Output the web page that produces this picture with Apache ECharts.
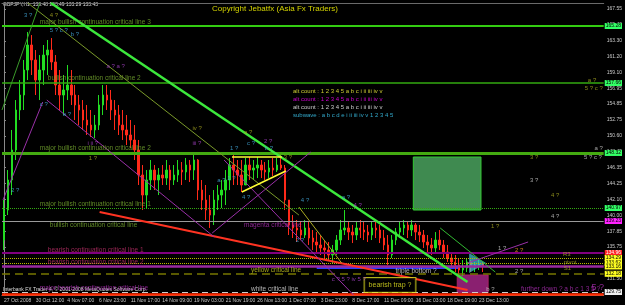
<!DOCTYPE html>
<html>
<head>
<meta charset="utf-8">
<title>GBPJPY H1</title>
<script src="https://cdn.jsdelivr.net/npm/echarts@6.0.0/dist/echarts.min.js"></script>
<style>
html, body { margin: 0; padding: 0; background: #000; }
#main { width: 625px; height: 305px; }
</style>
</head>
<body>
<div id="main"></div>
<script>
// time axis labels, one every 8 bars
var xLabels = ['27 Oct 2008', '30 Oct 12:00', '4 Nov 07:00', '6 Nov 23:00', '11 Nov 17:00', '14 Nov 09:00',
  '19 Nov 03:00', '21 Nov 19:00', '26 Nov 13:00', '1 Dec 07:00', '3 Dec 23:00', '8 Dec 17:00',
  '11 Dec 09:00', '16 Dec 03:00', '18 Dec 19:00', '23 Dec 13:00'];
var yTicks = [167.55, 165.40, 163.30, 161.20, 159.10, 156.95, 154.85, 152.75, 150.60, 148.45,
  146.35, 144.25, 142.10, 140.00, 137.85, 135.75, 133.60, 131.50];

// price bars (each bar ~ 8 hours), open = previous close
var firstOpen = 136.69;
var highs = [142.04, 146.04, 151.39, 155.39, 158.06, 160.74, 164.48, 164.07, 162.07, 161.40,
  162.74, 163.41, 163.67, 161.40, 159.40, 158.73, 160.07, 159.40, 157.40, 156.06,
  155.39, 154.73, 154.06, 153.39, 156.06, 157.40, 157.40, 156.73, 155.39, 154.73,
  154.06, 153.39, 152.72, 152.05, 150.05, 146.71, 146.04, 147.38, 146.71, 146.31,
  146.71, 147.38, 146.71, 146.71, 147.38, 147.11, 147.65, 147.38, 148.05, 147.50,
  144.71, 144.04, 142.70, 143.37, 144.04, 144.71, 146.04, 147.65, 148.05, 147.38,
  147.38, 147.65, 147.78, 147.38, 147.78, 147.38, 147.11, 147.38, 147.65, 147.65,
  148.05, 146.71, 142.04, 140.03, 139.37, 139.10, 139.37, 139.10, 138.03, 137.76,
  137.36, 136.69, 136.43, 136.03, 137.36, 139.37, 140.70, 139.10, 138.70, 139.10,
  139.37, 139.10, 138.70, 139.10, 139.37, 138.70, 138.03, 137.36, 137.36, 138.30,
  139.10, 139.37, 139.10, 139.37, 138.96, 138.70, 138.03, 137.36, 136.96, 137.76,
  138.03, 136.69, 136.03, 135.09, 134.69, 134.29, 134.02, 134.29, 134.02, 133.76,
  134.02, 133.76];
var lows = [135.36, 140.03, 142.70, 147.38, 152.72, 154.06, 158.06, 158.73, 156.06, 155.39,
  157.40, 158.73, 159.40, 156.06, 154.06, 153.39, 155.39, 154.73, 152.72, 152.05,
  151.39, 150.72, 150.45, 150.32, 151.39, 153.39, 154.06, 152.72, 151.39, 150.72,
  150.05, 149.38, 148.98, 147.38, 144.04, 140.70, 140.97, 143.37, 143.37, 142.70,
  144.04, 144.04, 143.37, 144.04, 144.44, 144.04, 144.71, 144.44, 144.71, 142.04,
  140.70, 139.37, 138.30, 138.70, 140.70, 140.97, 141.37, 143.37, 144.04, 144.04,
  143.10, 144.04, 144.71, 144.71, 144.97, 144.97, 144.71, 144.97, 145.24, 145.78,
  146.04, 140.70, 137.36, 136.96, 136.43, 136.69, 136.96, 136.03, 135.36, 135.09,
  134.69, 134.29, 134.02, 133.62, 134.69, 136.03, 137.36, 136.69, 136.29, 136.69,
  136.96, 136.69, 136.43, 136.69, 136.96, 136.29, 135.36, 133.36, 134.29, 136.03,
  136.96, 137.36, 136.96, 137.23, 136.69, 136.43, 135.63, 135.09, 134.69, 135.09,
  135.36, 134.29, 133.76, 132.95, 132.42, 132.02, 131.89, 132.42, 132.42, 132.42,
  132.69, 132.42];
var closes = [140.70, 144.71, 148.72, 154.06, 156.06, 159.40, 162.74, 160.74, 158.06, 159.40,
  161.40, 162.07, 160.47, 157.40, 156.06, 156.73, 157.40, 156.06, 154.73, 154.06,
  152.72, 152.05, 151.39, 152.05, 154.73, 156.06, 155.39, 154.06, 153.39, 152.05,
  151.39, 150.72, 150.05, 148.72, 145.38, 142.70, 144.71, 146.04, 144.71, 145.38,
  144.97, 146.04, 144.71, 145.38, 146.04, 145.78, 146.71, 146.04, 147.38, 143.37,
  142.04, 140.70, 140.03, 142.04, 142.70, 143.37, 144.71, 146.71, 146.04, 145.38,
  144.04, 146.71, 146.04, 146.31, 146.71, 146.04, 145.78, 146.31, 146.04, 146.71,
  146.31, 142.04, 138.70, 138.30, 138.03, 137.36, 138.30, 136.96, 136.43, 136.03,
  135.63, 135.36, 134.69, 135.36, 136.69, 138.03, 138.30, 137.76, 137.36, 138.30,
  138.03, 137.76, 137.36, 138.30, 138.03, 136.96, 136.03, 134.69, 136.69, 137.76,
  138.30, 138.70, 138.03, 138.70, 137.76, 137.36, 136.43, 136.03, 135.63, 136.69,
  136.03, 135.09, 134.29, 133.76, 133.36, 132.69, 132.95, 133.76, 133.22, 133.36,
  133.49, 133.22];

// horizontal critical lines (prices)
var levelPrices = [165.28, 157.66, 148.32, 140.97, 139.23, 134.96, 134.29, 133.62, 133.16, 132.18, 129.75, 129.48];
// trend lines: [bar, price] -> [bar, price]
var trendLines = [
  [[11.83, 168.35], [117.1, 131.08]],
  [[6.04, 168.35], [74.5, 140.03]],
  [[24.16, 140.43], [117.1, 130.01]],
  [[10.82, 155.39], [53.1, 137.10]],
  [[-0.25, 142.04], [9.8, 155.13]],
  [[-0.5, 154.06], [9.06, 168.35]],
  [[52.6, 137.63], [77.5, 148.45]],
  [[55.6, 147.38], [88.3, 129.35]],
  [[57.6, 147.78], [70.2, 147.78]],
  [[60.1, 143.11], [71.2, 145.91]],
  [[74.5, 141.10], [85.3, 133.62]],
  [[110.2, 138.30], [124.1, 132.42]],
  [[117.1, 133.62], [132.4, 136.43]]
];
var blueBar = [[79.0, 133.22], [114.7, 132.82]];
var greenBox = [[103.4, 147.78], [120.5, 140.70]];
var purpleBox = [[114.5, 132.02], [122.3, 129.62]];
var tealTriangle = [[117.5, 134.96], [117.5, 132.29], [121.8, 133.62]];

// annotations: [bar, price, text]
var greenNotes = [[9.06, 165.81, 'major bullish continuation critical line 3'], [11.08, 158.33, 'bullish continuation critical line 2'],
  [9.06, 148.98, 'major bullish continuation critical line 2'], [9.06, 141.50, 'major bullish continuation critical line 1'],
  [11.58, 138.70, 'bullish continuation critical line']];
var redNotes = [[11.08, 135.36, 'bearish continuation critical line 1'], [11.08, 133.76, 'bearish continuation critical line 2']];
var magentaNotes = [[9.06, 130.28, 'major bearish continuation critical line'], [60.65, 138.70, 'magenta critical line'],
  [130.6, 130.15, 'further down ? a b c 1 3 5 ?']];
var bigNotes = [[148.4, 130.35, '5 ?']];
var yellowNotes = [[62.4, 132.69, 'yellow critical line']];
var whiteNotes = [[62.4, 130.15, 'white critical line'], [98.9, 132.55, 'triple bottom ?']];
var trapNotes = [[91.1, 130.68, 'bearish trap ?']];
var cyanWaves = [[5.04, 166.75, '3 ?'], [11.58, 164.74, '5 ? c ?'], [16.86, 164.21, 'b ?'], [9.06, 154.86, 'c ?'],
  [14.85, 153.52, 'a ?'], [1.76, 143.37, '2 ?'], [61.4, 149.65, 'c ?'], [65.9, 148.98, 'b ?'], [57.1, 148.98, '1 ?'],
  [53.85, 144.71, 'a ?'], [56.4, 144.97, '1 ?'], [60.1, 142.44, '4 ?'], [75.0, 142.04, '4 ?'], [85.3, 142.44, 'a ?'],
  [73.7, 136.69, '2 ?']];
var oliveWaves = [[11.58, 166.75, '4 ?'], [47.6, 151.65, 'iv ?'], [21.4, 147.65, '1 ?'], [70.7, 147.78, '3 ?'],
  [60.65, 151.12, 'a ?'], [147.5, 158.06, 'a ?'], [146.7, 157.0, '5 ? c ?'], [132.9, 147.78, '3 ?'],
  [138.2, 142.70, '4 ?'], [123.05, 138.56, '1 ?'], [141.2, 134.83, 'R3'], [141.4, 133.76, 'pivot'], [141.4, 132.95, 'S1']];
var orangeWaves = [[129.1, 135.36, '2 ?']];
var purpleWaves = [[25.9, 159.93, 'a ? a ?'], [47.6, 149.65, 'iii ?'], [21.1, 149.65, 'i ii ?'], [65.7, 149.92, '2 ?'],
  [88.3, 141.37, '4 ?'], [82.8, 131.49, 'c ? 5 ? iv 5 ?']];
var whiteWaves = [[149.2, 148.98, 'a ?'], [146.5, 147.78, '5 ? c ?'], [132.9, 144.71, '3 ?'], [138.2, 139.9, '4 ?'],
  [124.8, 135.63, '1 ?'], [129.1, 132.55, '2 ?'], [121.8, 130.15, 'b ?']];

// styles for the lines above
var levelStyles = [
  {color: '#33cc11', width: 2, tag: '#33ff66'},
  {color: '#33aa11', width: 1.5, tag: '#33ff66'},
  {color: '#44aa11', width: 3, tag: '#33ff66'},
  {color: '#33aa11', width: 1, type: 'dotted', tag: '#33ff66'},
  {color: '#9a9a9a', width: 1, tag: '#ff22ff'},
  {color: '#800080', width: 2, tag: '#ff2222', tagText: '#fff'},
  {color: '#bbbb00', width: 1, type: 'dotted', tag: '#ffff22'},
  {color: '#bbbb00', width: 1, type: 'dotted', tag: '#ffff22'},
  {color: '#9a2aa0', width: 2.5, tag: '#ffff22'},
  {color: '#777700', width: 1.5, type: [8, 5], tag: '#ffff22'},
  {color: '#cccccc', width: 1, type: [6, 4], tag: '#eeeeee'},
  {color: '#ff2a00', width: 2.5}
];
var trendStyles = [
  {color: '#3ce83c', width: 2.5}, {color: '#7a9a2a', width: 1}, {color: '#ff3322', width: 2},
  {color: '#9a30a8', width: 1}, {color: '#9a30a8', width: 1}, {color: '#3a9a2a', width: 1},
  {color: '#9a30a8', width: 1}, {color: '#9a30a8', width: 1}, {color: '#ffff33', width: 1.5},
  {color: '#ffff33', width: 1.5}, {color: '#aaaa22', width: 1}, {color: '#33bb33', width: 1},
  {color: '#9a30a8', width: 1}
];

var FONT = 'Liberation Sans';

function textSeries(items, color, size, extra) {
  var label = {show: true, position: 'right', distance: 0, formatter: '{b}', color: color, fontSize: size, fontFamily: FONT};
  if (extra) for (var k in extra) label[k] = extra[k];
  return {
    type: 'scatter', xAxisIndex: 1, yAxisIndex: 0, z: 6, silent: true,
    symbolSize: 0,
    data: items.map(function (t) { return {value: [t[0], t[1]], name: t[2]}; }),
    label: label
  };
}

var cats = [];
for (var i = 0; i < 152; i++) cats.push(String(i));

var candles = closes.map(function (c, i) {
  var o = i === 0 ? firstOpen : closes[i - 1];
  return [o, c, lows[i], highs[i]];
});

var levelData = levelPrices.map(function (v, i) {
  var s = levelStyles[i];
  return {
    yAxis: v,
    lineStyle: {color: s.color, width: s.width, type: s.type || 'solid'},
    label: s.tag ? {show: true, position: 'end', distance: 1, formatter: v.toFixed(2), backgroundColor: s.tag,
      color: s.tagText || '#000', fontSize: 5, fontFamily: FONT, padding: [1, 1, 0, 1]} : {show: false}
  };
});

var trendData = trendLines.map(function (t, i) {
  var s = trendStyles[i];
  return [{coord: t[0], lineStyle: {color: s.color, width: s.width, type: 'solid'}}, {coord: t[1]}];
});

var chart = echarts.init(document.getElementById('main'));

var option = {
  backgroundColor: '#000',
  animation: false,
  grid: {left: 2, right: 19, top: 3, bottom: 10},
  xAxis: [{
    type: 'category', data: cats, boundaryGap: true,
    axisLine: {lineStyle: {color: '#8a8a8a'}},
    axisTick: {interval: 7, alignWithLabel: true, length: 2, lineStyle: {color: '#8a8a8a'}},
    axisLabel: {
      interval: 7, align: 'left', margin: 3, color: '#c8c8c8', fontSize: 5, fontFamily: FONT,
      formatter: function (v, idx) { return (idx % 8 === 0 && xLabels[idx / 8]) || ''; }
    },
    splitLine: {show: false}
  }, {
    type: 'value', min: -0.5, max: 151.5, position: 'top',
    axisLine: {show: true, lineStyle: {color: '#6a6a6a'}},
    axisTick: {show: false}, axisLabel: {show: false}, splitLine: {show: false}
  }],
  yAxis: {
    type: 'value', position: 'right', min: 129.35, max: 168.35,
    splitLine: {show: false},
    axisLine: {show: true, lineStyle: {color: '#8a8a8a'}},
    axisTick: {show: true, customValues: yTicks, length: 2, lineStyle: {color: '#8a8a8a'}},
    axisLabel: {customValues: yTicks, margin: 3, color: '#c8c8c8', fontSize: 5, fontFamily: FONT,
      formatter: function (v) { return v.toFixed(2); }}
  },
  graphic: [
    {type: 'text', left: 3, top: 2, style: {text: 'GBPJPY,H1  133.48 133.49 133.29 133.43', fill: '#dddddd', font: '5px ' + FONT}},
    {type: 'text', left: 212, top: 5, style: {text: 'Copyright Jebatfx (Asia Fx Traders)', fill: '#d4d400', font: '8px ' + FONT}},
    {type: 'text', left: 293, top: 88, style: {text: 'alt count : 1 2 3 4 5 a b c i ii iii iv v', fill: '#cccc33', font: '6px ' + FONT}},
    {type: 'text', left: 293, top: 96, style: {text: 'alt count : 1 2 3 4 5 a b c i ii iii iv v', fill: '#cc00cc', font: '6px ' + FONT}},
    {type: 'text', left: 293, top: 104, style: {text: 'alt count : 1 2 3 4 5 a b c i ii iii iv v', fill: '#cccccc', font: '6px ' + FONT}},
    {type: 'text', left: 293, top: 112, style: {text: 'subwave : a b c d e i ii iii iv v 1 2 3 4 5', fill: '#33aacc', font: '6px ' + FONT}},
    {type: 'text', left: 3, top: 287, style: {text: 'Interbank FX Trader 4, \u00a9 2001-2008 MetaQuotes Software Corp.', fill: '#dddddd', font: '5px ' + FONT}}
  ],
  series: [
    {
      type: 'line', xAxisIndex: 1, yAxisIndex: 0, data: [], z: 1, silent: true,
      markArea: {silent: true, data: [
        [{coord: blueBar[0], itemStyle: {color: '#2a3cff', opacity: 1}}, {coord: blueBar[1]}],
        [{coord: greenBox[0], itemStyle: {color: '#3f8a50', opacity: 1, borderColor: '#33cc33', borderWidth: 1}}, {coord: greenBox[1]}],
        [{coord: purpleBox[0], itemStyle: {color: '#8a2070', opacity: 1, borderColor: '#aa2266', borderWidth: 1}}, {coord: purpleBox[1]}]
      ]}
    },
    {
      type: 'candlestick', xAxisIndex: 0, yAxisIndex: 0, data: candles, z: 2,
      barMaxWidth: 3,
      itemStyle: {color: '#22dd22', color0: '#ff2a1a', borderColor: '#22dd22', borderColor0: '#ff2a1a', borderWidth: 1}
    },
    {
      type: 'line', xAxisIndex: 1, yAxisIndex: 0, data: [], z: 3, silent: true,
      markLine: {silent: true, symbol: ['none', 'none'], label: {show: false}, data: levelData.concat(trendData)}
    },
    {
      type: 'custom', xAxisIndex: 1, yAxisIndex: 0, z: 4, silent: true, data: [0],
      renderItem: function (params, api) {
        return {type: 'polygon', shape: {points: tealTriangle.map(function (p) { return api.coord(p); })},
          style: {fill: 'rgba(60,190,200,0.75)'}};
      }
    },
    textSeries(greenNotes, '#78ac30', 6.5),
    textSeries(redNotes, '#c0306a', 6.5),
    textSeries(magentaNotes, '#b030b8', 6.5),
    textSeries(bigNotes, '#b030b8', 9),
    textSeries(yellowNotes, '#cccc22', 6.5),
    textSeries(whiteNotes, '#dddddd', 6.5),
    textSeries(trapNotes, '#e0e020', 7, {borderColor: '#e0e020', borderWidth: 1, padding: [4, 4, 3, 4], backgroundColor: '#000'}),
    textSeries(cyanWaves, '#44aadd', 6),
    textSeries(oliveWaves, '#aaaa22', 6),
    textSeries(orangeWaves, '#ff9922', 6),
    textSeries(purpleWaves, '#aa44cc', 6),
    textSeries(whiteWaves, '#cccccc', 6)
  ]
};

chart.setOption(option);
</script>
</body>
</html>
